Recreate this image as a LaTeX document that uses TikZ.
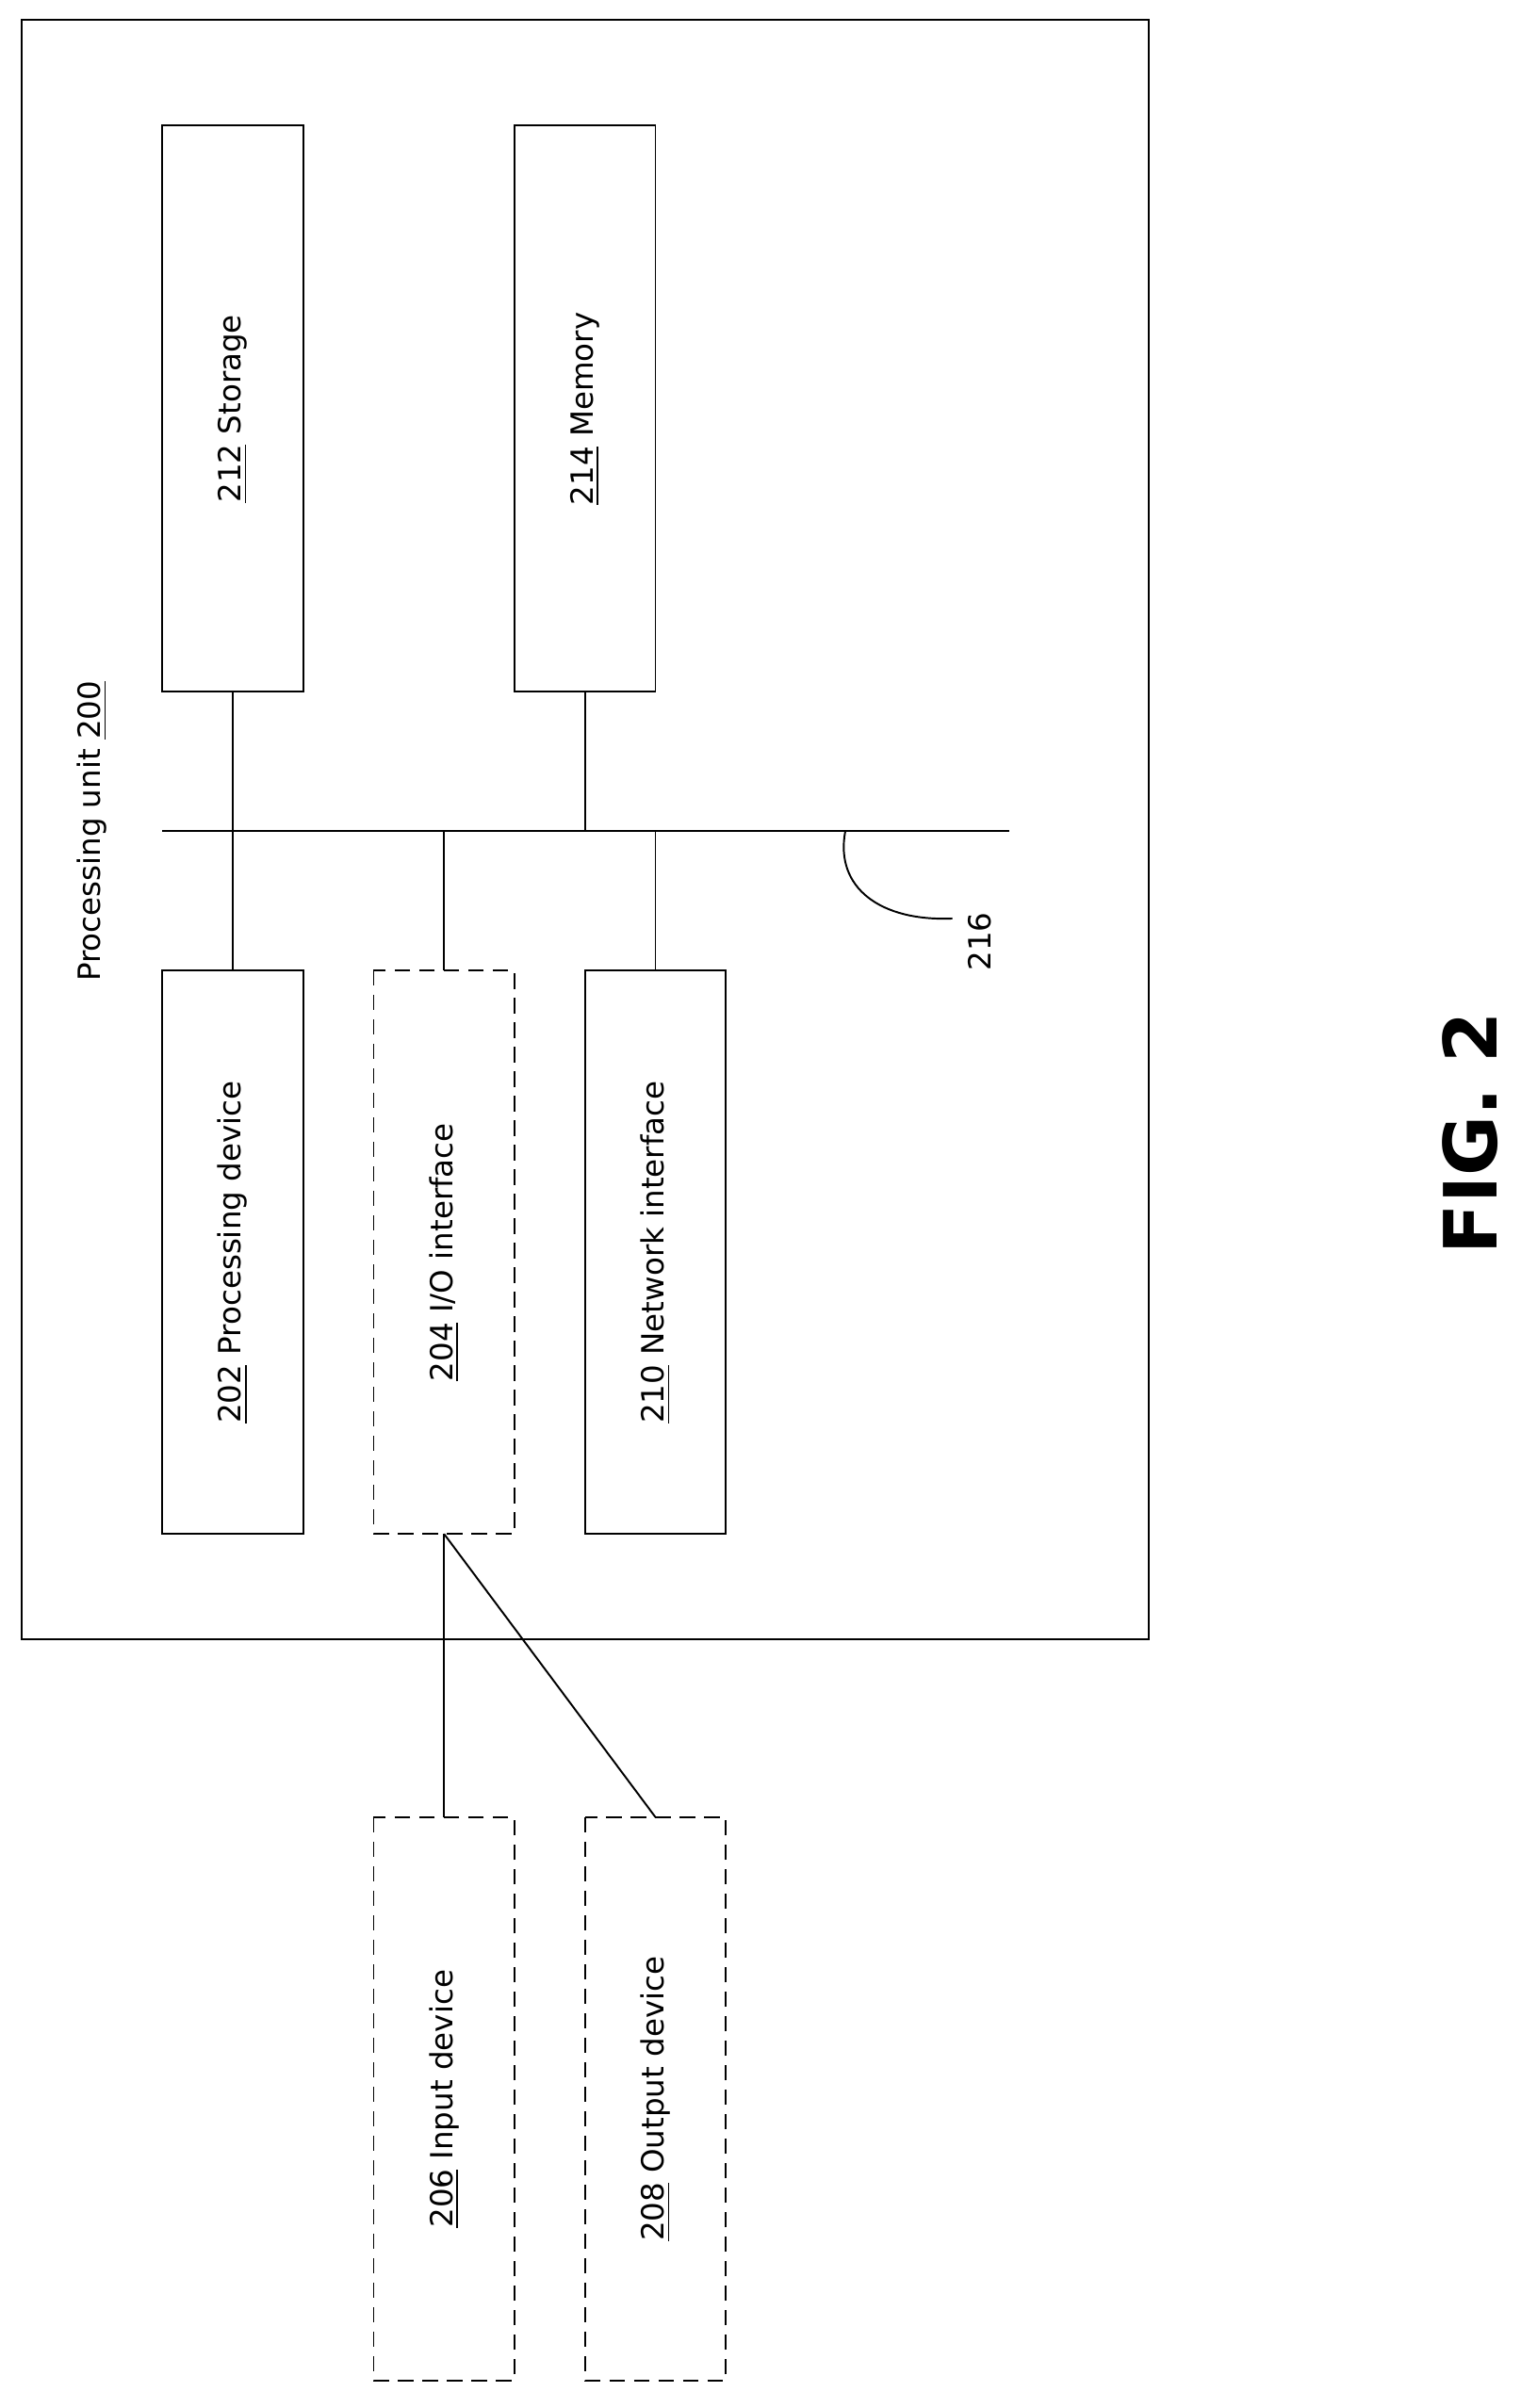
\documentclass[tikz,border=0pt]{standalone}
\usepackage{fontspec}
\setmainfont{DejaVu Sans}
\begin{document}
\begin{tikzpicture}[x=0.5pt,y=-0.5pt,
  box/.style={draw,line width=0.6pt},
  dbox/.style={draw,line width=0.6pt,dash pattern=on 5pt off 3pt},
  lbl/.style={rotate=90,font=\fontsize{10}{12}\selectfont},
  ln/.style={line width=0.6pt}]
\useasboundingbox (0,0) rectangle (993,1573);
\draw[box] (14,13) rectangle (750,1071);
\node[lbl] (pu) at (60,543) {Processing unit \underline{200}};
\draw[box] (106,82) rectangle (198,452); \node[lbl] (st) at (152,267) {\underline{212} Storage};
\draw[box] (336,82) rectangle (428,452); \node[lbl] (me) at (382,267) {\underline{214} Memory};
\draw[box] (106,634) rectangle (198,1002); \node[lbl] (pd) at (152,818) {\underline{202} Processing device};
\draw[dbox] (244,634) rectangle (336,1002); \node[lbl] (io) at (290,818) {\underline{204} I/O interface};
\draw[box] (382,634) rectangle (474,1002); \node[lbl] (ni) at (428,818) {\underline{210} Network interface};
\draw[dbox] (244,1187) rectangle (336,1555); \node[lbl] (in) at (290,1371) {\underline{206} Input device};
\draw[dbox] (382,1187) rectangle (474,1555); \node[lbl] (out) at (428,1371) {\underline{208} Output device};
\draw[ln] (106,543) -- (659,543);
\draw[ln] (152,452) -- (152,634);
\draw[ln] (382,452) -- (382,543);
\draw[ln] (290,543) -- (290,634);
\draw[ln] (428,543) -- (428,634);
\draw[ln] (290,1002) -- (290,1187);
\draw[ln] (290,1002) -- (428,1187);
\draw[ln] (552,543) .. controls (545,580) and (575,602) .. (622,600);
\node[lbl] (b216) at (640,615) {216};
\node[rotate=90,font=\bfseries\fontsize{24}{28}\selectfont] (fig) at (960,740) {FIG. 2};
\end{tikzpicture}
\end{document}
